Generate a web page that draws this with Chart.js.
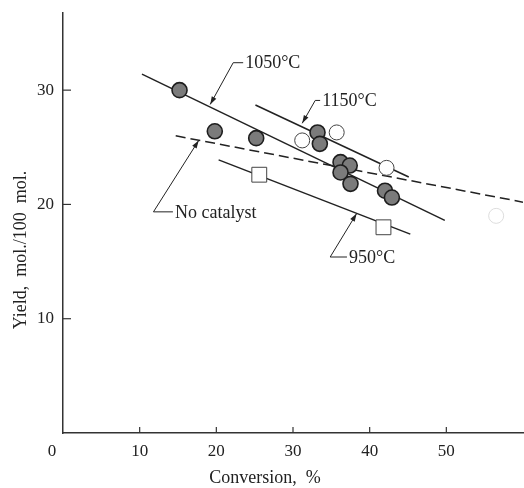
<!DOCTYPE html>
<html>
<head>
<meta charset="utf-8">
<script src="https://cdn.jsdelivr.net/npm/chart.js@4/dist/chart.umd.min.js"></script>
<style>
html,body{margin:0;padding:0;background:#fff;}
#wrap{width:524px;height:488px;}
</style>
</head>
<body>
<div id="wrap"><canvas id="c" width="524" height="488"></canvas></div>
<script>
// ---- data ----
const xTicks = [10, 20, 30, 40, 50];
const yTicks = [10, 20, 30];

const filledX = [15.2, 19.8, 25.2, 33.2, 33.5, 36.2, 37.4, 36.2, 37.5, 42.0, 42.9];
const filledY = [30.0, 26.4, 25.8, 26.3, 25.3, 23.7, 23.4, 22.8, 21.8, 21.2, 20.6];

const openX = [31.2, 35.7, 42.2];
const openY = [25.6, 26.3, 23.2];

const faintX = [56.5];
const faintY = [19.0];

const squareX = [25.6, 41.8];
const squareY = [22.6, 18.0];

const line1050X = [10.3, 49.8];
const line1050Y = [31.4, 18.6];
const line1150X = [25.1, 45.1];
const line1150Y = [28.7, 22.4];
const line950X = [20.3, 45.3];
const line950Y = [23.9, 17.4];
const noCatX = [14.7, 60.0];
const noCatY = [26.0, 20.2];

const labelTexts = ['1050°C', '1150°C', 'No catalyst', '950°C'];
const labelTipX = [19.2, 31.2, 17.7, 38.3];
const labelTipY = [28.75, 27.1, 25.6, 19.2];
const labelElbowX = [22.2, 32.9, 11.8, 34.85];
const labelElbowY = [32.4, 29.1, 19.35, 15.4];
const labelTextX = [23.76, 33.8, 14.6, 37.3];

const xTitle = 'Conversion,  %';
const yTitle = 'Yield,  mol./100  mol.';

// ---- helpers ----
const pts = (xs, ys) => xs.map((x, i) => ({x: x, y: ys[i]}));
const SERIF = '"Liberation Serif","DejaVu Serif","Times New Roman",serif';
const INK = '#222';

function lineDs(xs, ys, dash) {
  return {
    data: pts(xs, ys), showLine: true, pointRadius: 0, pointHoverRadius: 0,
    borderColor: INK, borderWidth: 1.5, borderDash: dash || [], fill: false, order: 5
  };
}

const extras = {
  id: 'extras',
  afterDraw(chart) {
    const ctx = chart.ctx, xs = chart.scales.x, ys = chart.scales.y;
    const a = chart.chartArea;
    ctx.save();
    // inward tick marks
    ctx.strokeStyle = '#333'; ctx.lineWidth = 1.2;
    yTicks.forEach(v => {
      const py = ys.getPixelForValue(v);
      ctx.beginPath(); ctx.moveTo(a.left, py); ctx.lineTo(a.left + 8, py); ctx.stroke();
    });
    xTicks.forEach(v => {
      const px = xs.getPixelForValue(v);
      ctx.beginPath(); ctx.moveTo(px, a.bottom); ctx.lineTo(px, a.bottom - 6); ctx.stroke();
    });
    // origin label
    ctx.fillStyle = INK;
    ctx.font = '17px ' + SERIF;
    ctx.textAlign = 'center'; ctx.textBaseline = 'top';
    ctx.fillText('0', xs.getPixelForValue(0) - 11, a.bottom + 10);
    // axis titles
    ctx.font = '18px ' + SERIF;
    ctx.textAlign = 'center'; ctx.textBaseline = 'middle';
    ctx.fillText(xTitle, a.left + 202, a.bottom + 45);
    ctx.save();
    ctx.translate(21, a.top + 237);
    ctx.rotate(-Math.PI / 2);
    ctx.fillText(yTitle, 0, 0);
    ctx.restore();
    // label leaders
    ctx.lineWidth = 1;
    ctx.strokeStyle = INK;
    labelTexts.forEach((t, i) => {
      const tx = xs.getPixelForValue(labelTipX[i]), ty = ys.getPixelForValue(labelTipY[i]);
      const ex = xs.getPixelForValue(labelElbowX[i]), ey = ys.getPixelForValue(labelElbowY[i]);
      const sx = xs.getPixelForValue(labelTextX[i]);
      ctx.beginPath();
      ctx.moveTo(tx, ty); ctx.lineTo(ex, ey); ctx.lineTo(sx - 2, ey);
      ctx.stroke();
      const ang = Math.atan2(ty - ey, tx - ex);
      const L = 8, W = 2.6;
      ctx.beginPath();
      ctx.moveTo(tx, ty);
      ctx.lineTo(tx - L * Math.cos(ang) + W * Math.sin(ang), ty - L * Math.sin(ang) - W * Math.cos(ang));
      ctx.lineTo(tx - L * Math.cos(ang) - W * Math.sin(ang), ty - L * Math.sin(ang) + W * Math.cos(ang));
      ctx.closePath(); ctx.fillStyle = INK; ctx.fill();
      ctx.font = '18px ' + SERIF;
      ctx.textAlign = 'left'; ctx.textBaseline = 'middle';
      ctx.fillText(t, sx, ey + 1);
    });
    ctx.restore();
  }
};

new Chart(document.getElementById('c'), {
  type: 'scatter',
  data: {
    datasets: [
      lineDs(line1050X, line1050Y),
      lineDs(line1150X, line1150Y),
      lineDs(line950X, line950Y),
      lineDs(noCatX, noCatY, [10, 5]),
      { data: pts(filledX, filledY), pointRadius: 7.5, pointBackgroundColor: '#7b7b7b',
        pointBorderColor: '#1e1e1e', pointBorderWidth: 1.6, order: 1 },
      { data: pts(openX, openY), pointRadius: 7.5, pointBackgroundColor: '#fff',
        pointBorderColor: '#444', pointBorderWidth: 1, order: 1 },
      { data: pts(faintX, faintY), pointRadius: 7.5, pointBackgroundColor: 'rgba(255,255,255,0)',
        pointBorderColor: '#dddddd', pointBorderWidth: 1, order: 1 },
      { data: pts(squareX, squareY), pointStyle: 'rect', pointRadius: 10.5, pointBackgroundColor: '#fff',
        pointBorderColor: '#444', pointBorderWidth: 1, order: 1 }
    ]
  },
  options: {
    responsive: false, animation: false, devicePixelRatio: 1,
    layout: { autoPadding: false, padding: { top: 13, right: 1, left: 0, bottom: 0 } },
    plugins: { legend: { display: false }, tooltip: { enabled: false } },
    scales: {
      x: {
        type: 'linear', min: 0, max: 60,
        afterFit: s => { s.height = 55; s.paddingLeft = 0; s.paddingRight = 0; },
        afterBuildTicks: s => { s.ticks = xTicks.map(v => ({value: v})); },
        grid: { display: false, drawTicks: false },
        border: { display: true, color: '#333', width: 1.5 },
        ticks: { color: INK, font: { family: SERIF, size: 17 }, padding: 8, maxRotation: 0 }
      },
      y: {
        type: 'linear', min: 0, max: 36.75,
        afterFit: s => { s.width = 63; s.paddingTop = 0; s.paddingBottom = 0; },
        afterBuildTicks: s => { s.ticks = yTicks.map(v => ({value: v})); },
        grid: { display: false, drawTicks: false },
        border: { display: true, color: '#333', width: 1.5 },
        ticks: { color: INK, font: { family: SERIF, size: 17 }, padding: 9 }
      }
    }
  },
  plugins: [extras]
});
</script>
</body>
</html>
